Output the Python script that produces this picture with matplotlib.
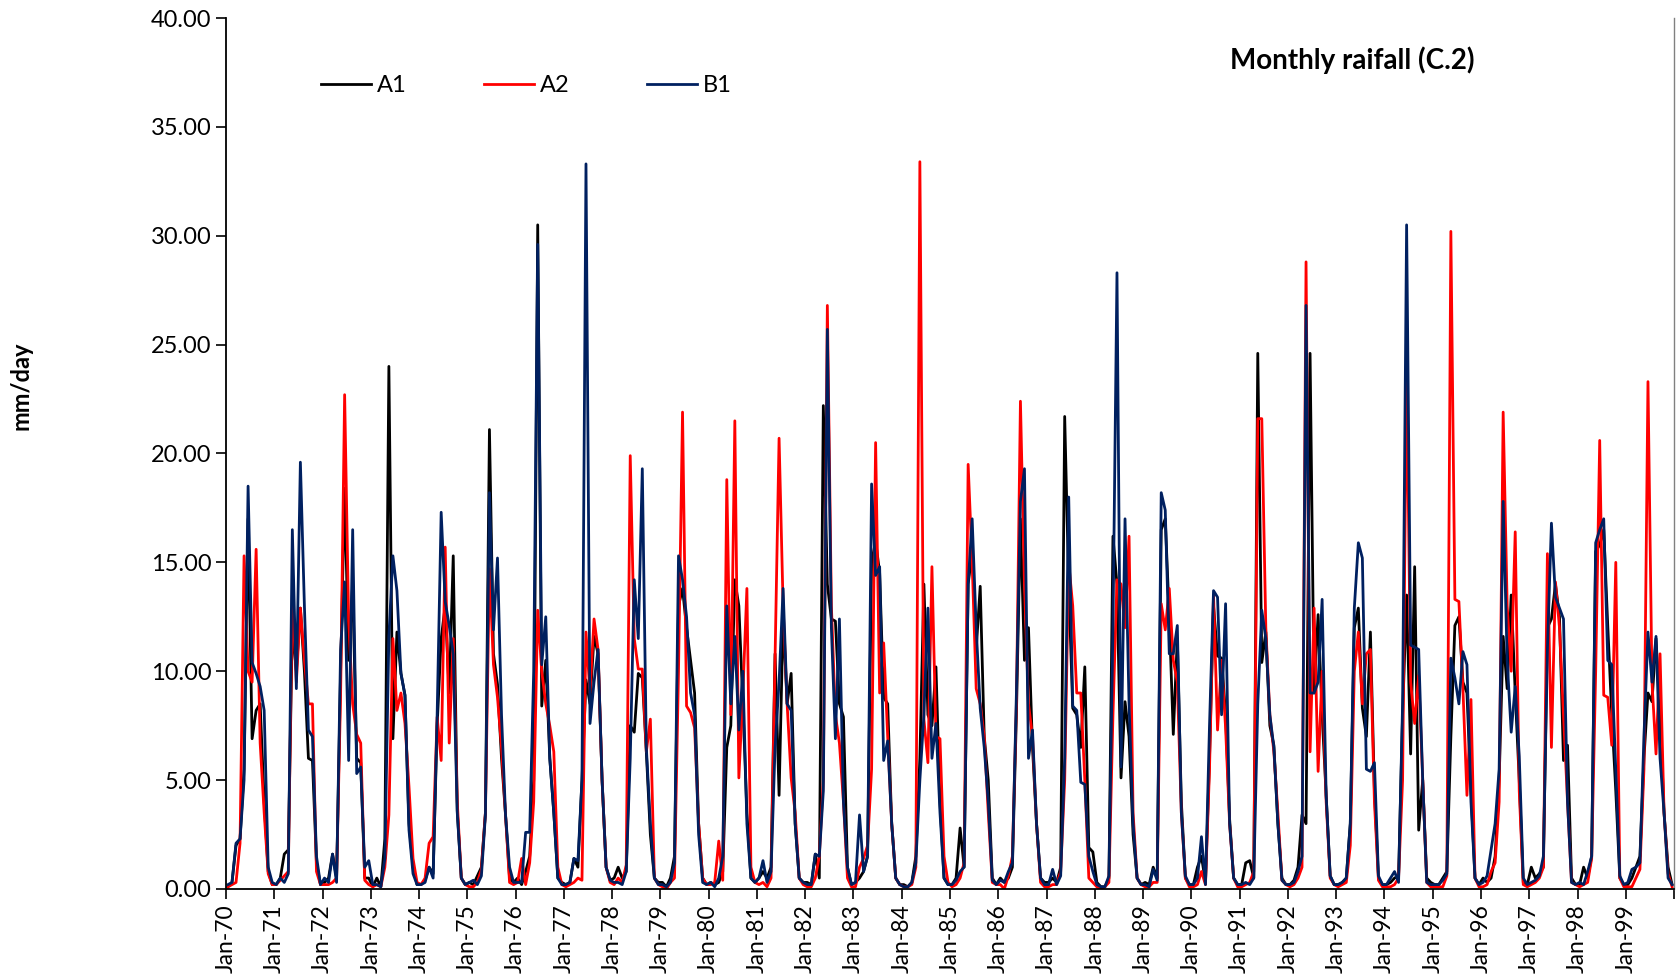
import numpy as np
import matplotlib
matplotlib.use('Agg')
import matplotlib.pyplot as plt

plt.rcParams['font.family'] = ['Lato', 'DejaVu Sans']

# monthly rainfall (mm/day), one row per year Jan..Dec, 1970-1999
a1 = [
    [0.1, 0.3, 2.0, 2.3, 5.5, 17.0, 6.9, 8.2, 8.5, 4.0, 0.8, 0.2],   # 1970
    [0.2, 0.5, 1.6, 1.8, 12.0, 10.0, 12.9, 10.0, 6.0, 5.9, 1.2, 0.2],
    [0.3, 0.5, 1.6, 0.5, 10.0, 18.4, 10.5, 14.0, 6.0, 5.8, 0.5, 0.5],
    [0.1, 0.5, 0.1, 2.3, 24.0, 6.9, 11.8, 9.9, 8.9, 3.0, 1.0, 0.2],
    [0.2, 0.4, 1.0, 0.7, 7.5, 11.5, 13.0, 9.0, 15.3, 3.6, 0.5, 0.2],
    [0.3, 0.2, 0.6, 1.0, 3.5, 21.1, 10.8, 9.4, 6.0, 3.4, 0.5, 0.3],   # 1975
    [0.5, 0.2, 0.8, 1.5, 5.0, 30.5, 8.4, 10.5, 6.0, 3.5, 0.5, 0.3],
    [0.2, 0.3, 1.4, 1.0, 5.0, 9.6, 8.5, 11.6, 10.8, 5.0, 1.0, 0.4],
    [0.5, 1.0, 0.5, 0.8, 7.5, 7.2, 9.9, 9.7, 6.3, 2.5, 0.5, 0.3],
    [0.3, 0.1, 0.5, 1.5, 13.0, 13.8, 12.0, 10.5, 9.0, 3.0, 0.5, 0.2],
    [0.3, 0.2, 0.3, 0.8, 6.5, 7.5, 14.2, 13.0, 8.5, 3.5, 0.5, 0.3],   # 1980
    [0.5, 0.8, 0.5, 1.0, 10.8, 4.3, 12.5, 8.5, 9.9, 3.0, 0.5, 0.3],
    [0.3, 0.2, 1.6, 0.5, 22.2, 14.0, 12.4, 12.3, 8.5, 7.9, 1.0, 0.2],
    [0.3, 0.5, 0.8, 1.5, 15.0, 16.0, 14.5, 8.8, 8.5, 3.0, 0.5, 0.2],
    [0.2, 0.1, 0.3, 1.5, 6.0, 14.0, 8.0, 7.5, 10.2, 4.0, 0.5, 0.2],
    [0.2, 0.5, 2.8, 1.0, 14.0, 15.5, 11.0, 13.9, 7.0, 5.0, 0.5, 0.2],  # 1985
    [0.5, 0.3, 0.5, 1.0, 8.0, 17.0, 10.5, 12.0, 6.5, 3.0, 0.5, 0.3],
    [0.3, 0.5, 0.3, 1.0, 21.7, 14.0, 8.3, 8.0, 6.5, 10.2, 1.9, 1.7],
    [0.3, 0.1, 0.1, 0.5, 16.2, 14.0, 5.1, 8.6, 7.0, 2.5, 0.5, 0.2],
    [0.3, 0.2, 1.0, 0.5, 16.5, 17.0, 12.5, 7.1, 11.5, 4.0, 0.5, 0.2],
    [0.2, 1.0, 1.5, 0.3, 6.0, 13.0, 10.7, 10.6, 8.0, 3.2, 0.5, 0.2],  # 1990
    [0.2, 1.2, 1.3, 0.5, 24.6, 10.4, 11.8, 7.5, 6.6, 3.0, 0.5, 0.2],
    [0.2, 0.4, 1.0, 3.4, 3.0, 24.6, 9.0, 12.6, 8.0, 4.3, 0.6, 0.2],
    [0.2, 0.3, 0.5, 3.0, 12.0, 12.9, 8.3, 7.0, 11.8, 4.5, 0.5, 0.2],
    [0.2, 0.3, 0.5, 0.6, 8.0, 13.5, 6.2, 14.8, 2.7, 5.0, 0.5, 0.3],
    [0.2, 0.2, 0.5, 0.8, 7.0, 12.1, 12.5, 9.5, 9.0, 4.5, 0.5, 0.2],   # 1995
    [0.5, 0.3, 0.5, 1.5, 5.0, 11.6, 9.2, 13.5, 9.0, 5.0, 0.3, 0.2],
    [1.0, 0.5, 0.7, 1.0, 12.0, 12.4, 14.0, 12.5, 5.9, 6.6, 0.5, 0.2],
    [0.2, 1.0, 0.5, 1.5, 15.5, 15.8, 16.5, 12.1, 8.0, 4.5, 0.5, 0.2],
    [0.2, 0.5, 1.0, 1.5, 6.0, 9.0, 8.6, 11.5, 8.0, 3.5, 1.0, 0.2],
]
a2 = [
    [0.1, 0.2, 0.3, 2.1, 15.3, 10.0, 9.5, 15.6, 6.7, 3.5, 0.7, 0.2],  # 1970
    [0.2, 0.4, 0.6, 0.8, 13.5, 9.5, 12.9, 10.5, 8.5, 8.5, 0.8, 0.2],
    [0.2, 0.2, 0.3, 0.5, 9.0, 22.7, 12.3, 8.5, 7.1, 6.7, 0.4, 0.2],
    [0.1, 0.2, 0.1, 1.0, 3.4, 11.5, 8.2, 9.0, 7.6, 4.7, 1.4, 0.3],
    [0.2, 0.5, 2.1, 2.4, 7.9, 5.9, 15.7, 6.7, 11.5, 4.0, 0.5, 0.2],
    [0.1, 0.1, 0.3, 0.9, 3.5, 14.7, 10.3, 8.8, 6.5, 3.4, 0.3, 0.2],   # 1975
    [0.3, 1.4, 0.2, 1.2, 4.0, 12.8, 10.0, 8.5, 7.5, 6.3, 1.0, 0.2],
    [0.1, 0.2, 0.3, 0.5, 0.4, 11.8, 9.0, 12.4, 11.0, 5.0, 1.0, 0.3],
    [0.2, 0.5, 0.3, 1.1, 19.9, 11.5, 10.1, 10.1, 6.3, 7.8, 0.5, 0.2],
    [0.1, 0.0, 0.3, 0.5, 10.0, 21.9, 8.4, 8.1, 7.4, 3.0, 0.5, 0.2],
    [0.2, 0.3, 2.2, 0.4, 18.8, 8.0, 21.5, 5.1, 9.0, 13.8, 1.0, 0.3],  # 1980
    [0.2, 0.3, 0.1, 0.5, 10.7, 20.7, 13.0, 8.5, 5.1, 3.5, 0.5, 0.2],
    [0.1, 0.1, 0.5, 1.5, 5.0, 26.8, 13.0, 8.0, 6.7, 4.0, 0.5, 0.1],
    [0.1, 1.0, 1.4, 2.0, 5.5, 20.5, 9.0, 11.3, 7.0, 3.0, 0.5, 0.2],
    [0.1, 0.1, 0.2, 1.0, 33.4, 7.8, 5.8, 14.8, 7.0, 6.9, 1.5, 0.3],
    [0.1, 0.2, 0.5, 1.2, 19.5, 15.0, 9.2, 8.5, 7.0, 3.5, 0.3, 0.2],   # 1985
    [0.2, 0.0, 0.6, 1.5, 8.5, 22.4, 14.0, 8.5, 7.0, 3.0, 0.3, 0.1],
    [0.1, 0.2, 0.2, 0.8, 5.0, 15.0, 13.0, 9.0, 9.0, 5.0, 0.5, 0.3],
    [0.1, 0.0, 0.1, 0.3, 8.0, 14.2, 14.0, 12.0, 16.2, 3.5, 0.5, 0.2],
    [0.1, 0.1, 0.3, 0.3, 13.1, 11.9, 13.8, 10.5, 9.5, 3.5, 0.5, 0.1],
    [0.1, 0.2, 0.8, 0.2, 5.5, 13.5, 7.3, 10.5, 7.4, 3.0, 0.5, 0.1],   # 1990
    [0.1, 0.2, 0.3, 0.8, 21.6, 21.6, 12.0, 8.0, 6.3, 3.5, 0.4, 0.2],
    [0.1, 0.2, 0.5, 1.0, 28.8, 6.3, 12.9, 5.4, 10.0, 4.0, 0.5, 0.2],
    [0.1, 0.2, 0.3, 2.0, 10.0, 11.8, 8.5, 10.8, 11.0, 4.0, 0.4, 0.1],
    [0.1, 0.1, 0.2, 0.5, 5.0, 24.0, 9.5, 7.6, 9.8, 5.0, 0.3, 0.1],
    [0.1, 0.1, 0.1, 0.6, 30.2, 13.3, 13.2, 9.2, 4.3, 8.7, 0.5, 0.1],  # 1995
    [0.1, 0.2, 0.8, 1.2, 4.0, 21.9, 13.0, 10.0, 16.4, 4.5, 0.2, 0.1],
    [0.2, 0.3, 0.5, 1.0, 15.4, 6.5, 14.1, 12.0, 8.0, 4.0, 0.3, 0.2],
    [0.1, 0.2, 0.3, 1.4, 10.0, 20.6, 8.9, 8.8, 6.6, 15.0, 0.5, 0.1],
    [0.1, 0.1, 0.5, 0.9, 5.5, 23.3, 9.5, 6.2, 10.8, 3.5, 0.7, 0.1],
]
b1 = [
    [0.2, 0.3, 2.1, 2.3, 5.0, 18.5, 10.4, 9.9, 9.3, 8.2, 1.0, 0.3],   # 1970
    [0.2, 0.5, 0.3, 0.7, 16.5, 9.2, 19.6, 13.0, 7.3, 7.0, 1.5, 0.2],
    [0.5, 0.3, 1.6, 0.3, 11.0, 14.1, 5.9, 16.5, 5.3, 5.6, 1.0, 1.3],
    [0.2, 0.2, 0.1, 1.4, 11.6, 15.3, 13.7, 9.9, 8.9, 2.7, 0.7, 0.2],
    [0.2, 0.3, 1.0, 0.5, 8.0, 17.3, 13.2, 12.1, 10.8, 3.5, 0.5, 0.2],
    [0.3, 0.4, 0.2, 0.6, 3.4, 18.2, 11.9, 15.2, 8.0, 3.4, 1.0, 0.3],  # 1975
    [0.3, 0.3, 2.6, 2.6, 10.0, 29.6, 10.3, 12.5, 6.0, 3.5, 0.5, 0.2],
    [0.2, 0.3, 1.4, 1.3, 5.0, 33.3, 7.6, 9.5, 11.0, 5.0, 1.0, 0.4],
    [0.3, 0.3, 0.2, 0.8, 6.0, 14.2, 11.5, 19.3, 6.5, 3.0, 0.5, 0.2],
    [0.2, 0.1, 0.3, 1.2, 15.3, 14.2, 12.5, 9.0, 8.0, 2.5, 0.3, 0.2],
    [0.3, 0.1, 0.5, 1.5, 13.0, 8.5, 11.6, 7.3, 10.0, 3.0, 0.5, 0.3],  # 1980
    [0.5, 1.3, 0.3, 0.8, 6.5, 9.5, 13.8, 8.5, 8.2, 3.0, 0.5, 0.3],
    [0.2, 0.2, 1.6, 1.5, 4.5, 25.7, 12.0, 6.9, 12.4, 4.0, 1.0, 0.2],
    [0.3, 3.4, 0.8, 1.5, 18.6, 14.4, 14.8, 5.9, 6.8, 3.0, 0.5, 0.2],
    [0.1, 0.1, 0.3, 1.2, 5.0, 8.0, 12.9, 6.0, 7.6, 3.5, 0.5, 0.2],
    [0.2, 0.4, 0.8, 1.0, 14.0, 17.0, 12.0, 8.3, 6.5, 4.0, 0.4, 0.2],  # 1985
    [0.4, 0.3, 0.8, 1.2, 9.0, 17.8, 19.3, 6.0, 7.3, 3.0, 0.5, 0.2],
    [0.2, 0.9, 0.2, 0.6, 6.0, 18.0, 8.4, 8.2, 4.9, 4.8, 1.5, 0.8],
    [0.2, 0.1, 0.1, 0.6, 12.0, 28.3, 5.6, 17.0, 8.5, 3.0, 0.5, 0.2],
    [0.2, 0.1, 0.9, 0.4, 18.2, 17.4, 10.8, 10.8, 12.1, 3.5, 0.6, 0.2],
    [0.2, 0.5, 2.4, 0.2, 7.5, 13.7, 13.4, 8.0, 13.1, 3.0, 0.5, 0.2],  # 1990
    [0.2, 0.3, 0.2, 0.5, 8.5, 12.8, 11.5, 8.0, 6.5, 3.0, 0.4, 0.2],
    [0.2, 0.3, 0.8, 1.5, 26.8, 9.0, 9.0, 9.5, 13.3, 4.3, 0.6, 0.2],
    [0.2, 0.3, 0.5, 3.0, 12.9, 15.9, 15.2, 5.5, 5.4, 5.8, 0.6, 0.2],
    [0.2, 0.5, 0.8, 0.3, 8.5, 30.5, 11.2, 11.1, 11.0, 5.0, 0.3, 0.2],
    [0.2, 0.2, 0.4, 0.7, 10.6, 9.7, 8.5, 10.9, 10.3, 4.0, 0.5, 0.2],  # 1995
    [0.3, 0.6, 1.8, 3.0, 5.5, 17.8, 10.5, 7.2, 9.3, 6.1, 0.5, 0.2],
    [0.3, 0.4, 0.6, 1.5, 11.0, 16.8, 13.4, 12.9, 12.4, 4.0, 0.3, 0.2],
    [0.3, 0.2, 0.8, 1.5, 15.9, 16.5, 17.0, 10.5, 10.3, 5.5, 0.6, 0.2],
    [0.3, 0.9, 1.0, 1.2, 7.0, 11.8, 9.5, 11.6, 6.0, 3.5, 0.5, 0.2],
]
years = list(range(1970, 2000))
year_labels = ['Jan-%02d' % (y % 100) for y in years]

series_names = ['A1', 'A2', 'B1']
series_colors = ['#000000', '#ff0000', '#002060']


def main():
    data = [np.asarray(s, dtype=float).ravel() for s in (a1, a2, b1)]
    months = np.arange(len(data[0])) + 0.5

    fig = plt.figure(figsize=(16.8, 9.8), dpi=100)
    ax = fig.add_axes([0.1345, 0.0929, 0.862, 0.8887])

    for vals, name, col in zip(data, series_names, series_colors):
        ax.plot(months, vals, color=col, lw=2.0, label=name)

    ax.set_xlim(0, 360)
    ax.set_ylim(0, 40)
    ax.set_yticks(np.arange(0, 40.1, 5))
    ax.set_yticklabels(['%.2f' % v for v in np.arange(0, 40.1, 5)], fontsize=17)
    ax.set_xticks(np.arange(0, 361, 12))
    ax.set_xticklabels(year_labels + [''], rotation=90, fontsize=16.5)
    ax.tick_params(axis='both', direction='out', length=7, width=1.2)
    ax.tick_params(axis='x', pad=4)

    for side in ['left', 'bottom']:
        ax.spines[side].set_linewidth(1.3)
    ax.spines['top'].set_visible(False)
    ax.spines['right'].set_color('#808080')
    ax.spines['right'].set_linewidth(1.0)

    ax.text(0.778, 0.952, 'Monthly raifall (C.2)', transform=ax.transAxes,
            ha='center', va='center', fontsize=20, fontweight='bold')

    ax.legend(loc='center left', bbox_to_anchor=(0.051, 0.922), ncol=3,
              frameon=False, fontsize=17, handlelength=2.1, handletextpad=0.25,
              columnspacing=3.3)

    fig.text(0.0125, 0.606, 'mm/day', rotation=90, ha='center', va='center',
             fontsize=17, fontweight='bold')

    plt.savefig('out.png', dpi=100)


if __name__ == '__main__':
    main()
